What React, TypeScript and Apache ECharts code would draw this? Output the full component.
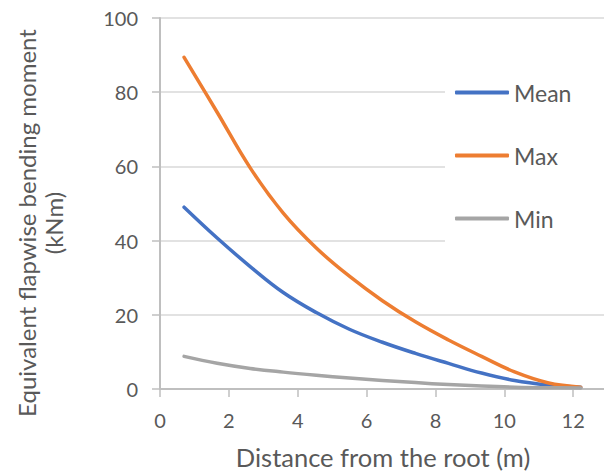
import React, { useEffect, useRef } from "react";
import * as echarts from "echarts";

const distance = [0.7, 1.66, 2.62, 3.58, 4.54, 5.5, 6.46, 7.42, 8.38, 9.34, 10.3, 11.26, 12.22];
const meanValues = [49, 40.7, 33.0, 26.0, 20.6, 16.1, 12.6, 9.6, 6.9, 4.3, 2.3, 1.1, 0.45];
const maxValues = [89.4, 74.6, 59.6, 47.4, 38.0, 30.4, 23.8, 18.1, 13.2, 8.8, 4.6, 1.7, 0.5];
const minValues = [8.8, 6.95, 5.55, 4.55, 3.7, 2.95, 2.3, 1.72, 1.2, 0.8, 0.5, 0.35, 0.3];
const seriesNames = ["Mean", "Max", "Min"];
const xTitle = "Distance from the root (m)";
const yTitle = "Equivalent flapwise bending moment\n(kNm)";

const FONT = "Lato, 'Open Sans', sans-serif";
const TXT = "#595959";

export default function App() {
  const ref = useRef<HTMLDivElement>(null);
  useEffect(() => {
    if (!ref.current) return;
    const chart = echarts.init(ref.current, undefined, { renderer: "svg" });
    const pair = (ys: number[]) => distance.map((x, i) => [x, ys[i]]);
    const colors = ["#4472C4", "#ED7D31", "#A5A5A5"];
    const datasets = [meanValues, maxValues, minValues];
    chart.setOption({
      animation: false,
      backgroundColor: "#ffffff",
      textStyle: { fontFamily: FONT },
      grid: { left: 160, right: 58, top: 18, bottom: 84 },
      xAxis: {
        type: "value",
        min: 0,
        max: 14,
        interval: 2,
        axisLine: { lineStyle: { color: "#BFBFBF", width: 2 } },
        axisTick: { show: true, length: 8, lineStyle: { color: "#BFBFBF", width: 1.5 } },
        axisLabel: {
          color: TXT,
          fontSize: 20,
          fontFamily: FONT,
          margin: 21,
          formatter: (v: number) => (v > 12 ? "" : String(v)),
        },
        splitLine: { show: false },
      },
      yAxis: {
        type: "value",
        min: 0,
        max: 100,
        interval: 20,
        axisLine: { show: true, lineStyle: { color: "#BFBFBF", width: 2 } },
        axisTick: { show: true, length: 8, lineStyle: { color: "#BFBFBF", width: 1.5 } },
        axisLabel: { color: TXT, fontSize: 20, fontFamily: FONT, margin: 22 },
        splitLine: { show: true, lineStyle: { color: "#D9D9D9", width: 1.5 } },
      },
      legend: {
        orient: "vertical",
        left: 445,
        top: 60,
        padding: [21, 40, 20, 10],
        backgroundColor: "#ffffff",
        icon: "roundRect",
        itemWidth: 54,
        itemHeight: 4,
        itemGap: 40,
        textStyle: { color: TXT, fontSize: 23, fontFamily: FONT, lineHeight: 22 },
        data: seriesNames,
      },
      series: seriesNames.map((name, i) => ({
        name,
        type: "line",
        smooth: 0.4,
        symbol: "none",
        showSymbol: false,
        data: pair(datasets[i]),
        lineStyle: { color: colors[i], width: 3.5, cap: "round", join: "round" },
        itemStyle: { color: colors[i] },
      })),
      graphic: [
        {
          type: "text",
          x: 383,
          y: 457,
          style: {
            text: xTitle,
            fill: TXT,
            font: `25.5px ${FONT}`,
            align: "center",
            verticalAlign: "middle",
          },
        },
        {
          type: "text",
          x: 40,
          y: 223,
          rotation: Math.PI / 2,
          style: {
            text: yTitle,
            fill: TXT,
            font: `24px ${FONT}`,
            align: "center",
            verticalAlign: "middle",
            lineHeight: 27,
          },
        },
      ],
    });
    return () => chart.dispose();
  }, []);
  return (
    <div style={{ position: "fixed", left: 0, top: 0, width: 604, height: 473, overflow: "hidden", background: "#fff" }}>
      <div ref={ref} style={{ width: 700, height: 473 }} />
    </div>
  );
}
